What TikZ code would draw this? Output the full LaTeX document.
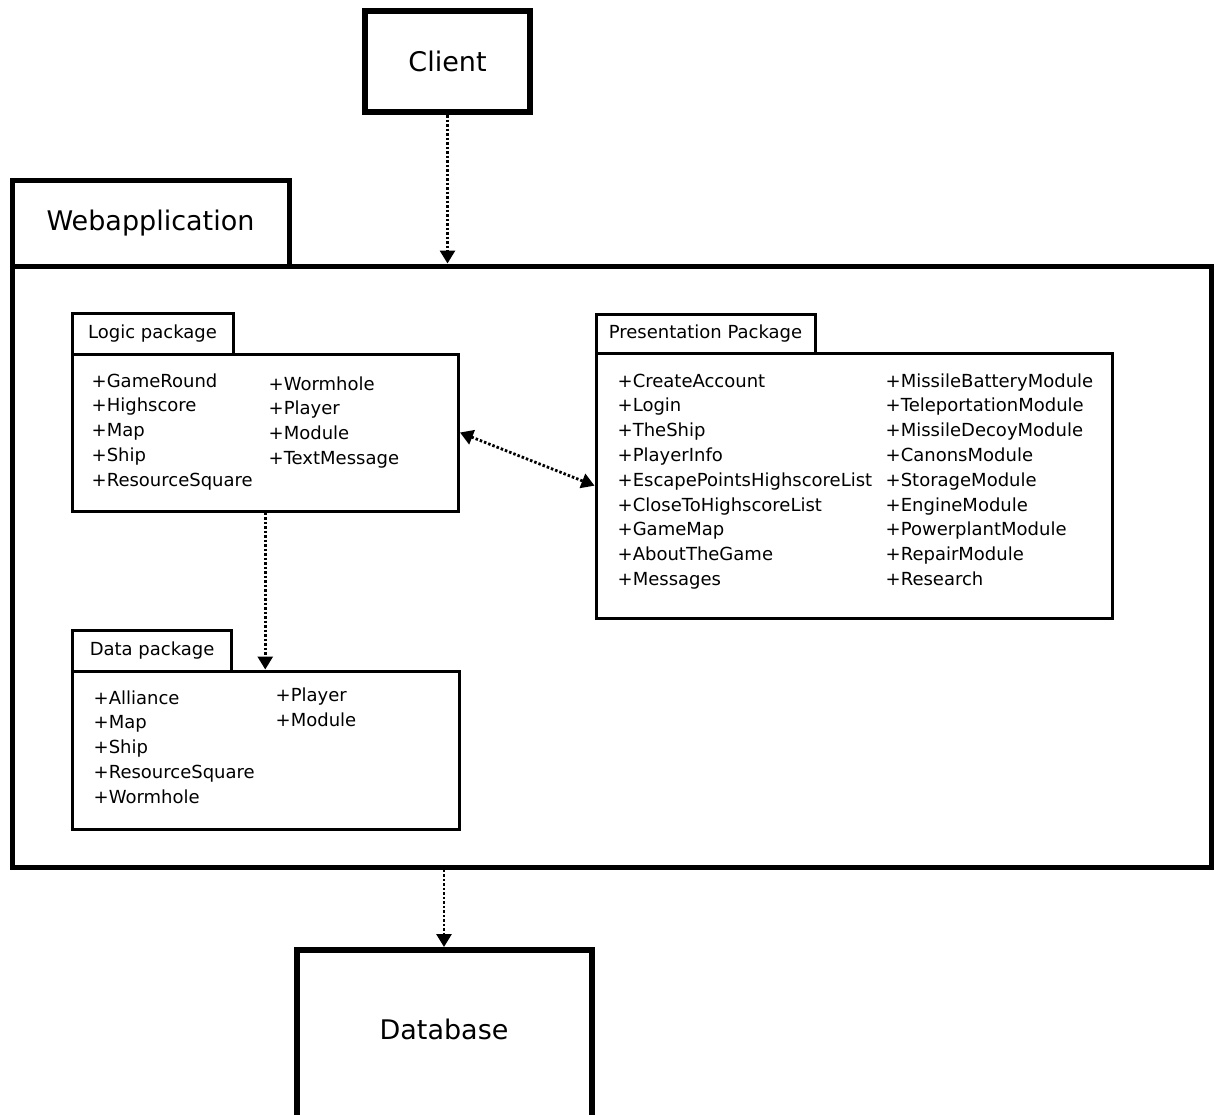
\documentclass[tikz,border=0pt]{standalone}
\usepackage{fontspec}
\setmainfont{DejaVu Sans}
\usetikzlibrary{arrows.meta}

\begin{document}
\begin{tikzpicture}[x=1pt,y=-1pt,
  >={Triangle[width=15pt,length=13pt]},
  heavybox/.style={draw, line width=6pt, inner sep=0pt, outer sep=3pt,
    font=\fontsize{27}{32}\selectfont},
  framebox/.style={draw, line width=5pt, inner sep=0pt, outer sep=2.5pt,
    font=\fontsize{27}{32}\selectfont},
  pkgbox/.style={draw, line width=3pt, inner sep=0pt, outer sep=1.5pt},
  pkgtab/.style={pkgbox, font=\fontsize{18}{22}\selectfont},
  % item lists are placed by the baseline of their last line
  items/.style={inner sep=0pt, align=left, anchor=base west,
    font=\fontsize{18}{24.8}\selectfont},
  dep/.style={line width=2.8pt, dash pattern=on 2.5pt off 2pt, ->},
]
\useasboundingbox (0,0) rectangle (1215,1114);
\clip (0,0) rectangle (1215,1114);

% outer nodes
\node[heavybox, minimum width=165pt, minimum height=101pt] (client) at (447.5,61.5) {Client};

\node[framebox, minimum width=277pt, minimum height=85.5pt] (webtab) at (150.5,223.25) {Webapplication};
\node[framebox, minimum width=1199pt, minimum height=601pt] (web) at (611.5,566.5) {};

\node[heavybox, minimum width=295pt, minimum height=174pt, text depth=15pt] (db) at (444,1037) {Database};

% logic package
\node[pkgtab, minimum width=161pt, minimum height=40.7pt] (logictab) at (152.5,333.7) {Logic package};
\node[pkgbox, minimum width=386.5pt, minimum height=157pt] (logic) at (265.25,432.5) {};
\node[items] (logicA) at (91.5,486.2) {+GameRound\\+Highscore\\+Map\\+Ship\\+ResourceSquare};
\node[items] (logicB) at (268.5,464.4) {+Wormhole\\+Player\\+Module\\+TextMessage};

% presentation package
\node[pkgtab, minimum width=219pt, minimum height=39.3pt] (prestab) at (705.5,333.65) {Presentation Package};
\node[pkgbox, minimum width=516pt, minimum height=264.7pt] (pres) at (854,485.65) {};
\node[items] (presA) at (617.5,585.4) {+CreateAccount\\+Login\\+TheShip\\+PlayerInfo\\+EscapePointsHighscoreList\\+CloseToHighscoreList\\+GameMap\\+AboutTheGame\\+Messages};
\node[items] (presB) at (885.5,585.4) {+MissileBatteryModule\\+TeleportationModule\\+MissileDecoyModule\\+CanonsModule\\+StorageModule\\+EngineModule\\+PowerplantModule\\+RepairModule\\+Research};

% data package
\node[pkgtab, minimum width=159.2pt, minimum height=41pt] (datatab) at (152.1,650.5) {Data package};
\node[pkgbox, minimum width=386.5pt, minimum height=158.5pt] (data) at (265.75,750.25) {};
\node[items] (dataA) at (93.5,803.2) {+Alliance\\+Map\\+Ship\\+ResourceSquare\\+Wormhole};
\node[items] (dataB) at (275.5,726.5) {+Player\\+Module};

% dependencies
\draw[dep] (client.south) -- (client.south |- web.north);
\draw[dep] (logic.south) -- (logic.south |- data.north);
\draw[dep, <->] (logic.east) -- (pres.west);
\draw[dep] (db.north |- web.south) -- (db.north);
\end{tikzpicture}
\end{document}
